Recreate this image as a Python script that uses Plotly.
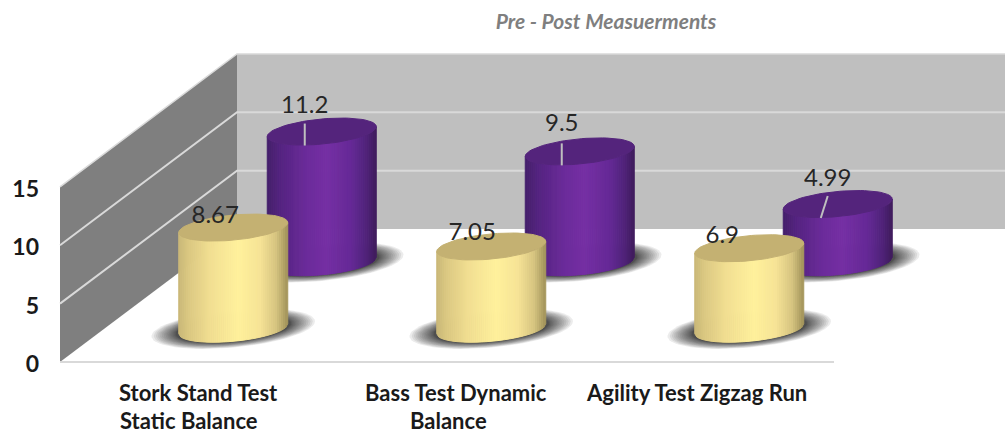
import numpy as np
import plotly.graph_objects as go

CATEGORIES = ["Stork Stand Test\nStatic Balance", "Bass Test Dynamic\nBalance", "Agility Test Zigzag Run"]
PRE_VALUES = [8.67, 7.05, 6.9]
POST_VALUES = [11.2, 9.5, 4.99]
VALUE_TICKS = [0, 5, 10, 15]

# pixel scale of the fake 3D box
PX_X = 258.0      # one category
PX_Y = 11.67      # one value unit
LEFT_PX = 60.0
ZERO_PX = 362.0
W, H = 1005, 434
MARGIN_L = 40

DEPTH_X = 177 / PX_X
DEPTH_Y = 133 / PX_Y
HALF_W = 54.5 / PX_X
SKEW_X = 20 / PX_X
HALF_D = 13.5 / PX_Y
RIM_A = np.sqrt(HALF_W ** 2 - SKEW_X ** 2)
T0 = np.arctan2(SKEW_X, RIM_A)

YELLOW_STOPS = [(0, "#c9b778"), (0.1, "#dcc982"), (0.3, "#f2df92"), (0.55, "#fff19c"),
                (0.75, "#f6e396"), (0.9, "#d6c480"), (1, "#a2945a")]
YELLOW_TOP = "#c4b172"
PURPLE_STOPS = [(0, "#44206a"), (0.12, "#552480"), (0.35, "#6a2b99"), (0.55, "#752fa4"),
                (0.78, "#652996"), (0.92, "#4f2278"), (1, "#3f1c5c")]
PURPLE_TOP = "#54247c"


def hex_rgb(c):
    return np.array([int(c[i:i + 2], 16) for i in (1, 3, 5)], dtype=float)


def ramp(stops, f):
    pos = [s[0] for s in stops]
    cols = np.array([hex_rgb(s[1]) for s in stops])
    rgb = [np.interp(f, pos, cols[:, k]) for k in range(3)]
    return "rgb({:.0f},{:.0f},{:.0f})".format(*rgb)


def rim(cx, cy, t, scale=1.0):
    x = cx + scale * (RIM_A * np.cos(t) + SKEW_X * np.sin(t))
    y = cy + scale * HALF_D * np.sin(t)
    return x, y


def poly(fig, x, y, color, line=None):
    fig.add_trace(go.Scatter(
        x=list(x), y=list(y), mode="lines", fill="toself", fillcolor=color,
        line=dict(color=line or color, width=1 if line else 0),
        hoverinfo="skip", showlegend=False,
    ))


def add_shadow(fig, cx, cy):
    t = np.linspace(0, 2 * np.pi, 80)
    # layers bunch up towards the cylinder so the outer edge fades out
    for k in np.linspace(1, 0, 18):
        x, y = rim(cx, cy, t, 1.05 + 0.45 * k ** 1.6)
        poly(fig, x, y, "rgba(40,40,40,0.09)")


def add_cylinder(fig, i, depth, value, stops, top_color):
    cx = i + 0.5 + depth * DEPTH_X
    cy = depth * DEPTH_Y
    fs = np.linspace(0, 1, 55)
    ts = T0 + 2 * np.pi - np.arccos(2 * fs - 1)
    for t1, t2, f1, f2 in zip(ts[:-1], ts[1:], fs[:-1], fs[1:]):
        x1, y1 = rim(cx, cy, t1)
        x2, y2 = rim(cx, cy, t2)
        c = ramp(stops, (f1 + f2) / 2)
        poly(fig, [x1, x2, x2, x1, x1], [y1, y2, y2 + value, y1 + value, y1], c, line=c)
    t = np.linspace(0, 2 * np.pi, 80)
    x, y = rim(cx, cy + value, t)
    poly(fig, x, y, top_color, line=top_color)


fig = go.Figure()

# walls
poly(fig, [DEPTH_X, 3 + DEPTH_X, 3 + DEPTH_X, DEPTH_X], [DEPTH_Y, DEPTH_Y, DEPTH_Y + 15, DEPTH_Y + 15], "#bfbfbf")
poly(fig, [0, DEPTH_X, DEPTH_X, 0], [0, DEPTH_Y, DEPTH_Y + 15, 15], "#7f7f7f")

# gridlines run along the side wall then the back wall
for v in VALUE_TICKS[1:]:
    fig.add_trace(go.Scatter(
        x=[0, DEPTH_X, 3 + DEPTH_X], y=[v, DEPTH_Y + v, DEPTH_Y + v], mode="lines",
        line=dict(color="#d9d9d9", width=2 if v < 15 else 1.5), hoverinfo="skip", showlegend=False,
    ))
fig.add_trace(go.Scatter(
    x=[0, 3], y=[0, 0], mode="lines", line=dict(color="#d9d9d9", width=2),
    hoverinfo="skip", showlegend=False,
))

for i, v in enumerate(POST_VALUES):
    add_shadow(fig, i + 0.5 + 0.75 * DEPTH_X, 0.75 * DEPTH_Y)
    add_cylinder(fig, i, 0.75, v, PURPLE_STOPS, PURPLE_TOP)
for i, v in enumerate(PRE_VALUES):
    add_shadow(fig, i + 0.5 + 0.25 * DEPTH_X, 0.25 * DEPTH_Y)
    add_cylinder(fig, i, 0.25, v, YELLOW_STOPS, YELLOW_TOP)

# labels sit off-centre from the cylinders, leader lines only on the purple ones
PRE_LABEL_DX = [-18, -19, -27]
PRE_LABEL_DY = [10.5, 12.5, 11.5]
POST_LABEL_DX = [-17, -18, -10]
POST_LABEL_DY = [24.5, 26.5, 24.5]
POST_LEADER_DX = [[-17, -17], [-18, -18], [-10, -17]]

for i, v in enumerate(POST_VALUES):
    cx = i + 0.5 + 0.75 * DEPTH_X
    top = 0.75 * DEPTH_Y + v
    lead = POST_LEADER_DX[i]
    fig.add_trace(go.Scatter(
        x=[cx + lead[0] / PX_X, cx + lead[1] / PX_X], y=[top + 8 / PX_Y, top - 14 / PX_Y], mode="lines",
        line=dict(color="#bfbfbf", width=2), hoverinfo="skip", showlegend=False,
    ))

lab_x, lab_y, lab_t = [], [], []
for i, v in enumerate(PRE_VALUES):
    lab_x.append(i + 0.5 + 0.25 * DEPTH_X + PRE_LABEL_DX[i] / PX_X)
    lab_y.append(0.25 * DEPTH_Y + v + PRE_LABEL_DY[i] / PX_Y)
    lab_t.append(str(v))
for i, v in enumerate(POST_VALUES):
    lab_x.append(i + 0.5 + 0.75 * DEPTH_X + POST_LABEL_DX[i] / PX_X)
    lab_y.append(0.75 * DEPTH_Y + v + POST_LABEL_DY[i] / PX_Y)
    lab_t.append(str(v))
fig.add_trace(go.Scatter(
    x=lab_x, y=lab_y, text=lab_t, mode="text", textposition="middle center",
    textfont=dict(family="Lato", size=24, color="#262626"),
    hoverinfo="skip", showlegend=False,
))

# axis text, one annotation per line since the wrapped lines are not centred alike
CAT_TEXT_PX = [[198, 189], [456, 448], [696]]
for i, cat in enumerate(CATEGORIES):
    for j, line in enumerate(cat.split("\n")):
        fig.add_annotation(
            x=(CAT_TEXT_PX[i][j] - LEFT_PX) / PX_X, y=(ZERO_PX - (392 + 28.5 * j)) / PX_Y,
            text="<b>" + line + "</b>", showarrow=False,
            font=dict(family="Lato", size=22, color="#1a1a1a"),
        )

fig.update_layout(
    width=W, height=H,
    margin=dict(l=MARGIN_L, r=0, t=0, b=0),
    paper_bgcolor="white", plot_bgcolor="white",
    showlegend=False,
    title=dict(
        text="<b><i>Pre - Post Measuerments</i></b>",
        x=606 / W, xanchor="center", y=1 - 22 / H, yanchor="middle",
        font=dict(family="Lato", size=21, color="#7f7f7f"),
    ),
    xaxis=dict(
        range=[(MARGIN_L - LEFT_PX) / PX_X, (W - LEFT_PX) / PX_X],
        visible=False, fixedrange=True,
    ),
    yaxis=dict(
        range=[(ZERO_PX - H) / PX_Y, ZERO_PX / PX_Y],
        tickmode="array", tickvals=VALUE_TICKS, ticktext=[str(v) for v in VALUE_TICKS],
        tickfont=dict(family="Lato", size=23, color="#1a1a1a", weight="bold"),
        ticklabelshift=2,
        showgrid=False, zeroline=False, showline=False, ticks="", fixedrange=True,
    ),
)

# the browser's default body margin would push the whole chart 8px off
fig.write_html("out.html", config=dict(displayModeBar=False), post_script="document.body.style.margin='0';")
